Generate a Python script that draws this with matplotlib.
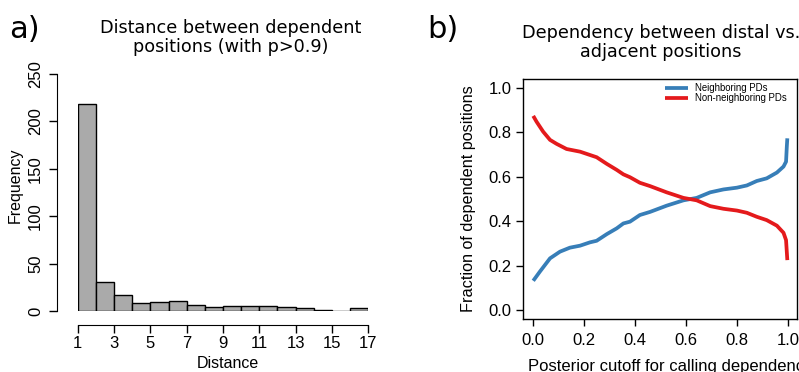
import matplotlib
matplotlib.use("Agg")
import matplotlib.pyplot as plt
import numpy as np

# ---- Panel a data: histogram of distances ----
bin_edges = [1, 2, 3, 4, 5, 6, 7, 8, 9, 10, 11, 12, 13, 14, 15, 16, 17]
bin_counts = [218, 31, 17, 8, 10, 11, 6, 4, 5, 5, 5, 4, 3, 1, 0, 3]
hist_xticks = [1, 3, 5, 7, 9, 11, 13, 15, 17]
hist_yticks = [0, 50, 100, 150, 200, 250]

# ---- Panel b data: fraction curves ----
cutoff_neigh = [0.0, 0.026, 0.066, 0.105, 0.144, 0.184, 0.223, 0.249, 0.289, 0.328,
                0.354, 0.380, 0.419, 0.459, 0.524, 0.590, 0.642, 0.695, 0.747, 0.800,
                0.839, 0.878, 0.917, 0.957, 0.983, 0.993, 0.996, 0.998]
frac_neigh = [0.132, 0.173, 0.233, 0.263, 0.281, 0.290, 0.305, 0.312, 0.342, 0.368,
              0.390, 0.398, 0.428, 0.442, 0.470, 0.494, 0.505, 0.530, 0.543, 0.551,
              0.561, 0.581, 0.593, 0.619, 0.646, 0.668, 0.736, 0.773]
cutoff_nonneigh = [0.0, 0.013, 0.039, 0.066, 0.092, 0.131, 0.184, 0.223, 0.249, 0.289,
                   0.328, 0.354, 0.380, 0.419, 0.459, 0.524, 0.590, 0.642, 0.695, 0.747,
                   0.800, 0.839, 0.878, 0.917, 0.957, 0.983, 0.993, 0.998]
frac_nonneigh = [0.874, 0.848, 0.803, 0.766, 0.748, 0.725, 0.713, 0.698, 0.688, 0.658,
                 0.631, 0.611, 0.598, 0.573, 0.558, 0.530, 0.505, 0.494, 0.468, 0.456,
                 0.448, 0.438, 0.420, 0.405, 0.380, 0.348, 0.315, 0.225]
b_xticks = [0.0, 0.2, 0.4, 0.6, 0.8, 1.0]
b_yticks = [0.0, 0.2, 0.4, 0.6, 0.8, 1.0]

W, H = 799, 372
fig = plt.figure(figsize=(W / 100, H / 100), dpi=100)

def fx(px):
    return px / W

def fy(py):
    return 1 - py / H

r_font = "Liberation Sans"
t_font = "DejaVu Sans"

# ---------------- Panel a ----------------
x0, x1 = 77.7, 368.3
y0, y1 = 311, 74
axa = fig.add_axes([fx(x0), fy(y0), fx(x1 - x0), (y0 - y1) / H])
lefts = np.array(bin_edges[:-1])
widths = np.diff(bin_edges)
axa.bar(lefts, bin_counts, width=widths, align="edge", color="#aaaaaa",
        edgecolor="black", linewidth=1.0)
axa.set_xlim(1, 17)
axa.set_ylim(0, 250)
for s in ["top", "right"]:
    axa.spines[s].set_visible(False)
axa.spines["left"].set_position(("outward", 15))
axa.spines["bottom"].set_position(("outward", 10))
axa.spines["left"].set_bounds(0, 250)
axa.spines["bottom"].set_bounds(1, 17)
axa.set_xticks(hist_xticks)
axa.set_yticks(hist_yticks)
axa.set_xticklabels([str(v) for v in hist_xticks], family=r_font, fontsize=12)
axa.set_yticklabels([str(v) for v in hist_yticks], family=r_font, fontsize=12,
                    rotation=90, va="center")
axa.tick_params(axis="both", length=6, width=1, color="black")
axa.tick_params(axis="y", pad=4)
axa.tick_params(axis="x", pad=2)
axa.set_xlabel("Distance", family=r_font, fontsize=11.5)
axa.xaxis.set_label_coords((228 - x0) / (x1 - x0), (y0 - 363) / (y0 - y1), transform=axa.transAxes)
axa.xaxis.label.set_va("center")
axa.set_ylabel("Frequency", family=r_font, fontsize=11.5)
axa.yaxis.set_label_coords((15 - x0) / (x1 - x0), (y0 - 185) / (y0 - y1))
axa.yaxis.label.set_va("center")
fig.text(fx(231), fy(37.5), "Distance between dependent\npositions (with p>0.9)",
         family=t_font, fontsize=12.7, ha="center", va="center", linespacing=1.05)
fig.text(fx(9), fy(30), "a)", family=t_font, fontsize=22, ha="left", va="center")

# ---------------- Panel b ----------------
bx0, bx1 = 523.3, 797
by0, by1 = 319, 79
axb = fig.add_axes([fx(bx0), fy(by0), fx(bx1 - bx0), (by0 - by1) / H])
axb.plot(cutoff_neigh, frac_neigh, color="#377EB8", linewidth=2.7,
         label="Neighboring PDs", solid_capstyle="butt")
axb.plot(cutoff_nonneigh, frac_nonneigh, color="#E41A1C", linewidth=2.7,
         label="Non-neighboring PDs", solid_capstyle="butt")
axb.set_xlim(-0.039, 1.036)
axb.set_ylim(-0.04, 1.04)
axb.set_xticks(b_xticks)
axb.set_yticks(b_yticks)
axb.set_xticklabels([f"{v:.1f}" for v in b_xticks], family=r_font, fontsize=12)
axb.set_yticklabels([f"{v:.1f}" for v in b_yticks], family=r_font, fontsize=12)
axb.tick_params(axis="both", length=5, width=1, color="black")
axb.tick_params(axis="x", pad=5)
for s in axb.spines.values():
    s.set_linewidth(1.0)
axb.set_xlabel("Posterior cutoff for calling dependency", family=r_font,
               fontsize=12)
axb.xaxis.set_label_coords(0.5 + (528 - 523.3) / (bx1 - bx0) * 0, (by0 - 366) / (by0 - by1))
axb.xaxis.label.set_va("center")
axb.xaxis.label.set_ha("left")
axb.xaxis.set_label_coords((528 - bx0) / (bx1 - bx0), (by0 - 366) / (by0 - by1))
axb.set_ylabel("Fraction of dependent positions", family=r_font, fontsize=11.7)
axb.yaxis.set_label_coords((468 - bx0) / (bx1 - bx0), 0.5 + (199 - 192.5) / (by0 - by1) * 0)
axb.yaxis.label.set_va("center")
leg = axb.legend(loc="upper left", frameon=False, prop={"family": r_font, "size": 6.9},
                 handlelength=2.4, handletextpad=0.7, labelspacing=0.05,
                 bbox_to_anchor=((665 - bx0) / (bx1 - bx0), (by0 - 83) / (by0 - by1)),
                 borderaxespad=0.0, borderpad=0.0)
for line in leg.get_lines():
    line.set_linewidth(2.7)
fig.text(fx(661), fy(42.5), "Dependency between distal vs.\nadjacent positions",
         family=t_font, fontsize=12.7, ha="center", va="center", linespacing=1.05)
fig.text(fx(427), fy(29), "b)", family=t_font, fontsize=22, ha="left", va="center")

fig.savefig("out.png", dpi=100)
